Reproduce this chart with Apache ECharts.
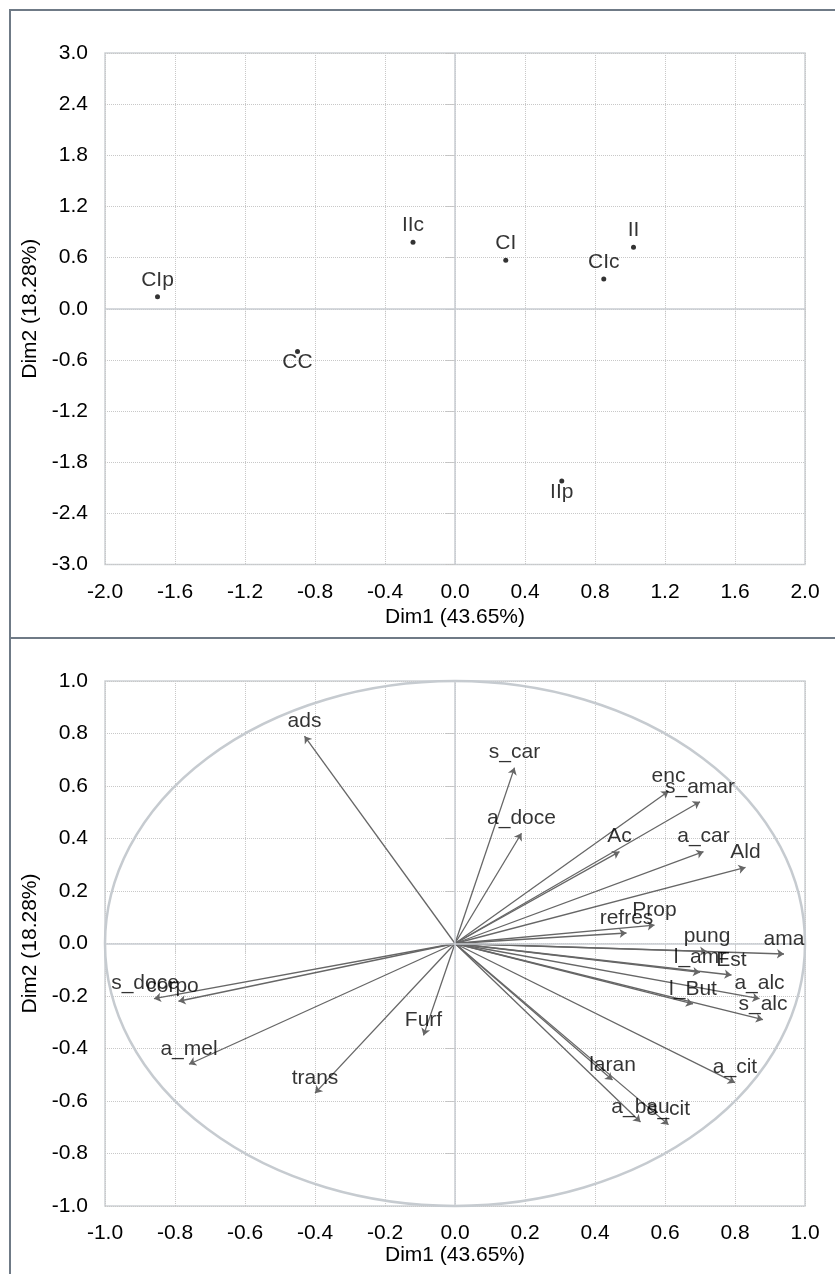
<!DOCTYPE html>
<html>
<head>
<meta charset="utf-8">
<script src="https://cdn.jsdelivr.net/npm/echarts@6/dist/echarts.min.js"></script>
<style>
html,body{margin:0;padding:0;background:#fff;}
#main{width:835px;height:1274px;}
</style>
</head>
<body>
<div id="main"></div>
<script>
// ---- Individuals (top map) ----
const indNames = ['CIp', 'CC', 'IIc', 'CI', 'CIc', 'II', 'IIp'];
const indDim1 = [-1.70, -0.90, -0.24, 0.29, 0.85, 1.02, 0.61];
const indDim2 = [0.14, -0.50, 0.78, 0.57, 0.35, 0.72, -2.02];

// ---- Variables (correlation circle) ----
const varNames = ['ads', 's_car', 'a_doce', 'enc', 's_amar', 'Ac', 'a_car', 'Ald', 'Prop', 'refres',
  'pung', 'ama', 'l_amr', 'Est', 'a_alc', 's_alc', 'l_But', 'a_cit', 'laran', 'a_bau', 's_cit',
  'Furf', 'trans', 'a_mel', 's_doce', 'corpo'];
const varDim1 = [-0.43, 0.17, 0.19, 0.61, 0.70, 0.47, 0.71, 0.83, 0.57, 0.49,
  0.72, 0.94, 0.70, 0.79, 0.87, 0.88, 0.68, 0.80, 0.45, 0.53, 0.61,
  -0.09, -0.40, -0.76, -0.86, -0.79];
const varDim2 = [0.79, 0.67, 0.42, 0.58, 0.54, 0.35, 0.35, 0.29, 0.07, 0.04,
  -0.03, -0.04, -0.11, -0.12, -0.21, -0.29, -0.23, -0.53, -0.52, -0.68, -0.69,
  -0.35, -0.57, -0.46, -0.21, -0.22];

// ---- Axes ----
const axisTitleX = 'Dim1 (43.65%)';
const axisTitleY = 'Dim2 (18.28%)';
const topXRange = [-2.0, 2.0, 0.4];
const topYRange = [-3.0, 3.0, 0.6];
const botXRange = [-1.0, 1.0, 0.2];
const botYRange = [-1.0, 1.0, 0.2];
const unitCircle = [[0, 0, 1]];

// ---- styling (not data) ----
const FONT = "'Liberation Sans', Arial, sans-serif";
const TXT = '#000';
const belowLabels = {'CC': true, 'IIp': true};
const labelShift = {'s_doce': -9, 'corpo': -6};

function makeAxis(type, range, gridIndex, gap) {
  const isX = type === 'x';
  return {
    type: 'value',
    gridIndex: gridIndex,
    min: range[0], max: range[1], interval: range[2],
    name: isX ? axisTitleX : axisTitleY,
    nameLocation: 'middle',
    nameGap: gap,
    nameTextStyle: {fontFamily: FONT, fontSize: 21, color: TXT},
    axisLine: {show: false},
    axisTick: {show: true, length: 9, lineStyle: {color: '#c4c4c4', type: 'dotted', width: 1}},
    axisLabel: {
      margin: isX ? 17 : 17, fontFamily: FONT, fontSize: 21, color: TXT,
      padding: isX ? 0 : [4, 0, 0, 0],
      showMinLabel: true, showMaxLabel: true,
      formatter: v => Number(v).toFixed(1)
    },
    splitLine: {show: true, lineStyle: {color: '#c8c8c8', type: 'dotted', width: 1}}
  };
}

const zeroLines = {
  silent: true, symbol: 'none', label: {show: false},
  lineStyle: {color: '#c9cdd2', type: 'solid', width: 1.5},
  emphasis: {disabled: true},
  data: [{xAxis: 0}, {yAxis: 0}]
};

const indData = indNames.map((n, i) => ({
  name: n, value: [indDim1[i], indDim2[i]],
  label: {offset: [0, belowLabels[n] ? 11 : -17]}
}));

const arrowData = varNames.map((n, i) => ({name: n, coords: [[0, 0], [varDim1[i], varDim2[i]]]}));
const varLabelData = varNames.map((n, i) => ({
  name: n, value: [varDim1[i], varDim2[i]],
  label: {offset: [labelShift[n] || 0, -15]}
}));

const option = {
  animation: false,
  backgroundColor: '#fff',
  graphic: [
    {type: 'line', shape: {x1: 9, y1: 10, x2: 835, y2: 10}, style: {stroke: '#6f7a86', lineWidth: 2}},
    {type: 'line', shape: {x1: 10, y1: 9, x2: 10, y2: 1274}, style: {stroke: '#6f7a86', lineWidth: 2}},
    {type: 'line', shape: {x1: 9, y1: 638, x2: 835, y2: 638}, style: {stroke: '#6f7a86', lineWidth: 2}}
  ],
  grid: [
    {left: 105, top: 53, width: 700, height: 511.5, show: true, borderColor: '#cdd1d5', borderWidth: 1.5, backgroundColor: 'transparent'},
    {left: 105, top: 681, width: 700, height: 525, show: true, borderColor: '#cdd1d5', borderWidth: 1.5, backgroundColor: 'transparent'}
  ],
  xAxis: [makeAxis('x', topXRange, 0, 42), makeAxis('x', botXRange, 1, 37)],
  yAxis: [makeAxis('y', topYRange, 0, 62), makeAxis('y', botYRange, 1, 62)],
  series: [
    {
      type: 'scatter', xAxisIndex: 0, yAxisIndex: 0,
      symbolSize: 5, itemStyle: {color: '#000'},
      label: {show: true, position: 'inside', formatter: p => p.name, fontFamily: FONT, fontSize: 21, color: TXT},
      markLine: zeroLines,
      data: indData, z: 5
    },
    {
      type: 'custom', xAxisIndex: 1, yAxisIndex: 1, silent: true, z: 2,
      renderItem: function (params, api) {
        const c = api.coord([api.value(0), api.value(1)]);
        const s = api.size([api.value(2), api.value(2)]);
        const rx = s[0], ry = s[1];
        const d = 'M' + (c[0] - rx) + ' ' + c[1] +
          ' A' + rx + ' ' + ry + ' 0 1 0 ' + (c[0] + rx) + ' ' + c[1] +
          ' A' + rx + ' ' + ry + ' 0 1 0 ' + (c[0] - rx) + ' ' + c[1] + ' Z';
        return {
          type: 'path',
          shape: {pathData: d},
          style: {fill: 'none', stroke: '#c6cbd0', lineWidth: 2.5}
        };
      },
      data: unitCircle
    },
    {
      type: 'lines', coordinateSystem: 'cartesian2d', xAxisIndex: 1, yAxisIndex: 1, z: 4,
      symbol: ['none', 'arrow'], symbolSize: 7,
      lineStyle: {color: '#666666', width: 1.3, opacity: 1},
      markLine: zeroLines,
      data: arrowData
    },
    {
      type: 'scatter', xAxisIndex: 1, yAxisIndex: 1, z: 6,
      symbolSize: 1, itemStyle: {color: 'rgba(0,0,0,0)'},
      label: {show: true, position: 'inside', formatter: p => p.name, fontFamily: FONT, fontSize: 21, color: TXT},
      data: varLabelData
    }
  ]
};

const chart = echarts.init(document.getElementById('main'), null, {renderer: 'canvas'});
chart.setOption(option);
</script>
</body>
</html>
